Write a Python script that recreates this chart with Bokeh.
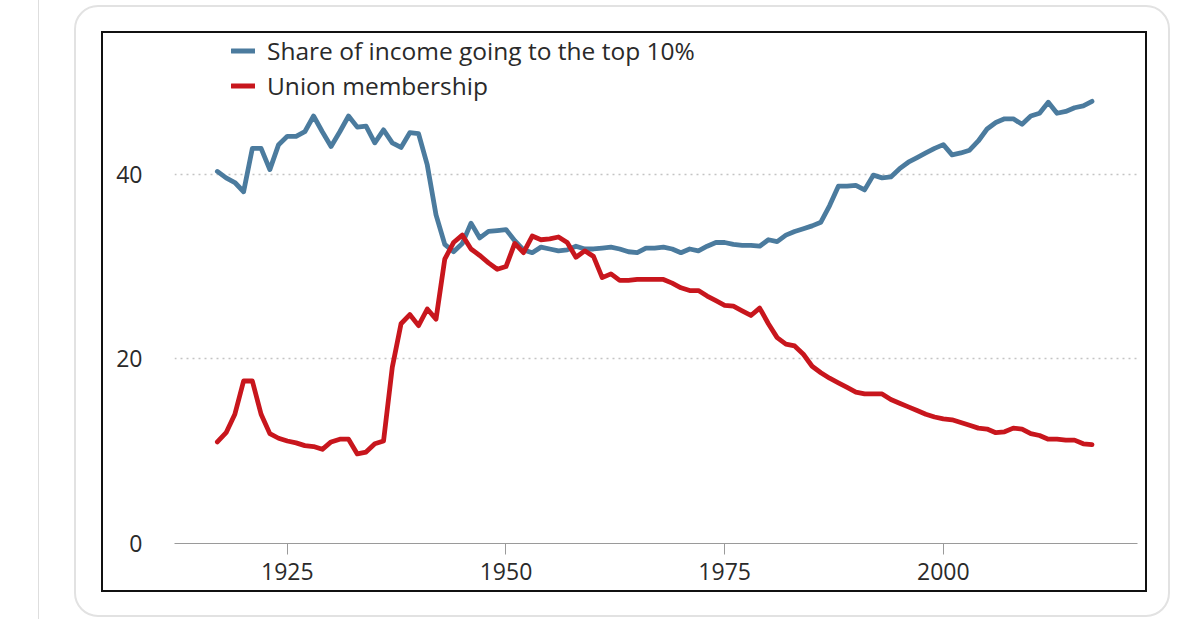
from bokeh.plotting import figure
from bokeh.models import (ColumnDataSource, FixedTicker, Legend, LegendItem,
                          Range1d, Div)
from bokeh.layouts import row, column
from bokeh.embed import file_html
from bokeh.resources import INLINE

# ---------------- data ----------------
years = list(range(1917, 2018))

top10_share = [
    40.3, 39.6, 39.1, 38.1, 42.8, 42.8, 40.5, 43.2, 44.1, 44.1,   # 1917-1926
    44.6, 46.3, 44.6, 43.0, 44.6, 46.3, 45.1, 45.2, 43.4, 44.8,   # 1927-1936
    43.4, 42.9, 44.5, 44.4, 41.0, 35.6, 32.4, 31.6, 32.5, 34.7,   # 1937-1946
    33.1, 33.8, 33.9, 34.0, 32.8, 31.8, 31.5, 32.1, 31.9, 31.7,   # 1947-1956
    31.8, 32.2, 31.9, 31.9, 32.0, 32.1, 31.9, 31.6, 31.5, 32.0,   # 1957-1966
    32.0, 32.1, 31.9, 31.5, 31.9, 31.7, 32.2, 32.6, 32.6, 32.4,   # 1967-1976
    32.3, 32.3, 32.2, 32.9, 32.7, 33.4, 33.8, 34.1, 34.4, 34.8,   # 1977-1986
    36.6, 38.7, 38.7, 38.8, 38.3, 39.9, 39.6, 39.7, 40.6, 41.3,   # 1987-1996
    41.8, 42.3, 42.8, 43.2, 42.1, 42.3, 42.6, 43.6, 44.9, 45.6,   # 1997-2006
    46.0, 46.0, 45.4, 46.3, 46.6, 47.8, 46.6, 46.8, 47.2, 47.4,   # 2007-2016
    47.9,                                                         # 2017
]

union_membership = [
    11.0, 12.0, 14.0, 17.6, 17.6, 14.0, 11.9, 11.4, 11.1, 10.9,   # 1917-1926
    10.6, 10.5, 10.2, 11.0, 11.3, 11.3, 9.7, 9.9, 10.8, 11.1,     # 1927-1936
    19.1, 23.8, 24.8, 23.6, 25.4, 24.3, 30.8, 32.6, 33.4, 31.9,   # 1937-1946
    31.2, 30.4, 29.7, 30.0, 32.5, 31.5, 33.3, 32.9, 33.0, 33.2,   # 1947-1956
    32.6, 31.0, 31.7, 31.1, 28.8, 29.2, 28.5, 28.5, 28.6, 28.6,   # 1957-1966
    28.6, 28.6, 28.2, 27.7, 27.4, 27.4, 26.8, 26.3, 25.8, 25.7,   # 1967-1976
    25.2, 24.7, 25.5, 23.8, 22.3, 21.6, 21.4, 20.5, 19.2, 18.5,   # 1977-1986
    17.9, 17.4, 16.9, 16.4, 16.2, 16.2, 16.2, 15.6, 15.2, 14.8,   # 1987-1996
    14.4, 14.0, 13.7, 13.5, 13.4, 13.1, 12.8, 12.5, 12.4, 12.0,   # 1997-2006
    12.1, 12.5, 12.4, 11.9, 11.7, 11.3, 11.3, 11.2, 11.2, 10.8,   # 2007-2016
    10.7,                                                         # 2017
]

x_ticks = [1925, 1950, 1975, 2000]
y_ticks = [0, 20, 40]
series_names = ["Share of income going to the top 10%", "Union membership"]

# ---------------- styling ----------------
FONT = "Open Sans"
TEXT = "#2a2a2a"
BLUE = "#4b7b9e"
RED = "#c8161d"

src = ColumnDataSource(dict(year=years, top=top10_share, union=union_membership))

# canvas = inside of the black box (x 103..1145, y 33..590)
p = figure(width=1042, height=557, output_backend="svg", toolbar_location=None,
           x_range=Range1d(1912.1, 2022.2), y_range=Range1d(0, 55.24),
           min_border_left=71, min_border_right=8,
           min_border_top=0, min_border_bottom=47,
           background_fill_color="white", border_fill_color="white",
           margin=(26, 0, 0, 27),
           styles={"outline": "2px solid #111111"})
p.outline_line_color = None

r_top = p.line("year", "top", source=src, line_color=BLUE, line_width=4.8,
               line_join="round", line_cap="round")
r_union = p.line("year", "union", source=src, line_color=RED, line_width=4.8,
                 line_join="round", line_cap="round")

# axes
xa = p.xaxis[0]
xa.ticker = FixedTicker(ticks=x_ticks)
xa.minor_tick_line_color = None
xa.axis_line_color = "#9a9a9a"
xa.axis_line_width = 1
xa.major_tick_in = 0
xa.major_tick_out = 11
xa.major_tick_line_color = "#9a9a9a"
xa.major_label_standoff = 8
xa.major_label_text_font = FONT
xa.major_label_text_font_size = "23px"
xa.major_label_text_color = TEXT

ya = p.yaxis[0]
ya.ticker = FixedTicker(ticks=y_ticks)
ya.minor_tick_line_color = None
ya.axis_line_color = None
ya.major_tick_line_color = None
ya.major_tick_in = 0
ya.major_tick_out = 0
ya.major_label_standoff = 32
ya.major_label_text_font = FONT
ya.major_label_text_font_size = "23px"
ya.major_label_text_color = TEXT

p.xgrid.grid_line_color = None
p.ygrid.grid_line_color = "#c4c4c4"
p.ygrid.grid_line_width = 1.5
p.ygrid.grid_line_dash = "2 4"

legend = Legend(items=[LegendItem(label=series_names[0], renderers=[r_top]),
                       LegendItem(label=series_names[1], renderers=[r_union])],
                location=(57, 441), margin=0, padding=5, spacing=2,
                glyph_width=24, glyph_height=29, label_height=29,
                label_standoff=12, label_text_font=FONT,
                label_text_font_size="24.5px", label_text_color=TEXT,
                background_fill_alpha=0, border_line_color=None)
p.add_layout(legend, "center")

# card (rounded light frame) holding the chart, and a faint rule at the left
card = column(p, width=1096, height=612, margin=(5, 0, 0, 35),
              styles={"border": "2px solid #e2e2e2", "border-radius": "24px",
                      "box-sizing": "border-box", "background-color": "white"})
rule = Div(text="", width=1, height=619, margin=(0, 0, 0, 38),
           styles={"background-color": "#dedede"})
root = row(rule, card, width=1200, height=619,
           styles={"background-color": "white"})

open("out.html", "w").write(file_html(root, INLINE))
